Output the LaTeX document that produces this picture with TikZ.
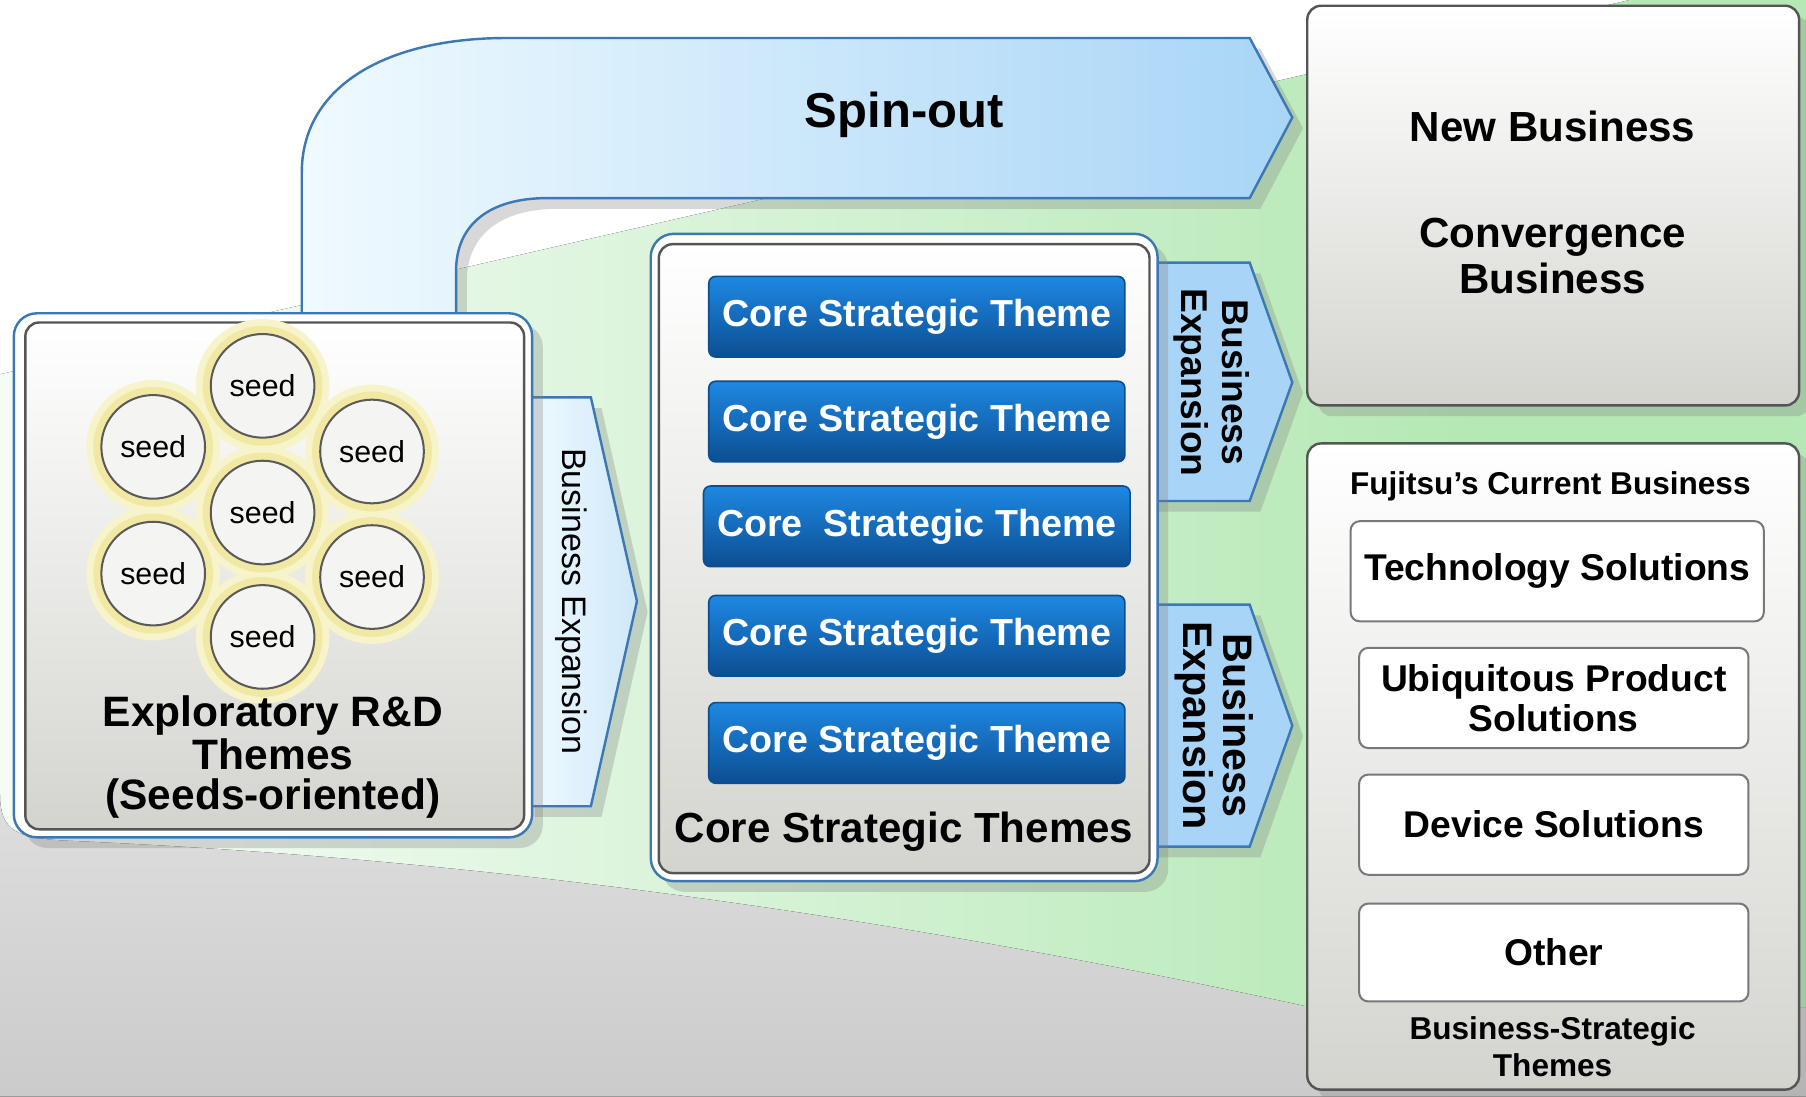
\documentclass[tikz,border=0pt]{standalone}
\usepackage{fontspec}
\setmainfont{Liberation Sans}
\usetikzlibrary{fit,shadows,positioning}

\definecolor{bggreen}{RGB}{180,232,180}
\definecolor{bgtop}{RGB}{222,222,222}
\definecolor{bgbot}{RGB}{203,203,203}
\definecolor{frameblue}{RGB}{60,120,180}
\definecolor{arrowblue}{RGB}{168,213,247}
\definecolor{spinlight}{RGB}{240,250,254}
\definecolor{boxgray}{RGB}{212,212,207}
\definecolor{boxedge}{RGB}{85,85,85}
\definecolor{seedfill}{RGB}{244,244,242}
\definecolor{seededge}{RGB}{90,90,90}
\definecolor{glowyellow}{RGB}{238,228,140}
\definecolor{themetop}{RGB}{30,136,226}
\definecolor{themebot}{RGB}{12,78,146}
\definecolor{unitedge}{RGB}{120,120,120}
\pgfdeclarehorizontalshading{greenfade}{100bp}{color(0bp)=(white); color(30bp)=(bggreen!18!white); color(66bp)=(bggreen); color(100bp)=(bggreen)}

\begin{document}
\begin{tikzpicture}[x=0.1mm, y=-0.1mm,
  graybox/.style={draw=boxedge, line width=0.6pt, rounded corners=1.2mm, top color=white, bottom color=boxgray, inner sep=0pt},
  frame/.style={draw=frameblue, line width=0.6pt, rounded corners=2mm, fill=white, inner sep=0pt, drop shadow={opacity=0.3}},
  blockarrow/.style={draw=frameblue, line width=0.6pt, fill=arrowblue, drop shadow={opacity=0.3}},
  seed/.style={circle, draw=seededge, line width=0.5pt, fill=seedfill, minimum size=9mm, inner sep=0pt, font=\fontsize{7.5}{9}\selectfont},
  theme/.style={draw=themebot, rounded corners=0.6mm, top color=themetop, bottom color=themebot, minimum width=35.3mm, minimum height=7mm, text=white, font=\bfseries\fontsize{9.3}{11}\selectfont},
  unit/.style={draw=unitedge, line width=0.5pt, rounded corners=0.8mm, fill=white, minimum width=33.8mm, minimum height=8.7mm, align=center, font=\bfseries\fontsize{9.2}{10}\selectfont},
  bigtxt/.style={align=center, font=\bfseries\fontsize{10.4}{11.4}\selectfont}
]
  \useasboundingbox (0,0) rectangle (1568,952);
  \fill[white] (0,0) rectangle (1568,952);
  \fill[shading=greenfade] (0,325) -- (1415,0) -- (1568,0) -- (1568,952) -- (0,952) -- cycle;
  \fill[top color=bgtop, bottom color=bgbot] (0,690) .. controls (0,722) and (15,728) .. (60,730)
    .. controls (400,745) and (750,790) .. (1140,875) -- (1568,875) -- (1568,952) -- (0,952) -- cycle;

  % spin-out
  \draw[blockarrow, left color=spinlight, right color=arrowblue] (262,272) -- (262,150)
    .. controls (262,75) and (335,33) .. (440,33) -- (1085,33) -- (1122,102) -- (1085,172)
    -- (475,172) .. controls (425,172) and (396,195) .. (396,235) -- (396,272);
  \node[font=\bfseries\fontsize{12.1}{14}\selectfont] (spin) at (785,100) {Spin-out};

  % exploratory themes
  \draw[blockarrow, left color=spinlight, right color=arrowblue!55] (455,345) -- (513,345) -- (553,522) -- (513,700) -- (455,700);
  \node[frame, fit={(12,272) (462,727)}] (explorframe) {};
  \node[graybox, fit={(22,280) (455,720)}] (explor) {};
  \node[rotate=-90, font=\fontsize{8.4}{10}\selectfont] (bx1) at (496,522) {Business Expansion};

  \newcommand{\seedlist}{228/335/s1, 133/388/s2, 323/392/s3, 228/445/s4, 133/498/s5, 323/501/s6, 228/553/s7}
  \foreach \x/\y/\n in \seedlist {
      \fill[glowyellow!45] (\x,\y) circle (58);
  }
  \foreach \x/\y/\n in \seedlist {
      \fill[glowyellow!80] (\x,\y) circle (52);
  }
  \foreach \x/\y/\n in \seedlist {
      \node[seed] (\n) at (\x,\y) {seed};
  }
  \node[bigtxt, font=\bfseries\fontsize{10.5}{9.7}\selectfont] (explorlbl) at (237,657) {Exploratory R\&D\\Themes\\(Seeds-oriented)};

  % core strategic themes
  \draw[blockarrow] (995,228) -- (1085,228) -- (1122,332) -- (1085,435) -- (995,435);
  \draw[blockarrow] (995,525) -- (1085,525) -- (1122,630) -- (1085,735) -- (995,735);
  \node[frame, fit={(565,203) (1005,765)}] (coreframe) {};
  \node[graybox, fit={(572,212) (998,758)}] (core) {};
  \foreach \y/\t [count=\i] in {275/Core Strategic Theme, 366/Core Strategic Theme, 457/Core~ Strategic Theme, 552/Core Strategic Theme, 645/Core Strategic Theme} {
      \node[theme] (t\i) at (796,\y) {\t};
  }
  \node[bigtxt] (corelbl) at (785,722) {Core Strategic Themes};
  \node[rotate=-90, align=center, font=\bfseries\fontsize{9.2}{10}\selectfont] (bx2) at (1052,332) {Business\\Expansion};
  \node[rotate=-90, align=center, font=\bfseries\fontsize{10.2}{10}\selectfont] (bx3) at (1054,630) {Business\\Expansion};

  % business boxes
  \node[graybox, drop shadow={opacity=0.3}, fit={(1135,5) (1562,352)}] (newbiz) {};
  \node[bigtxt] (newlbl) at (1348,110) {New Business};
  \node[bigtxt] (convlbl) at (1348,222) {Convergence\\Business};

  \node[graybox, drop shadow={opacity=0.3}, fit={(1135,385) (1562,946)}] (current) {};
  \node[font=\bfseries\fontsize{7.8}{9}\selectfont] (curlbl) at (1346,422) {Fujitsu’s Current Business};
  \node[unit, minimum width=34.5mm] (tech) at (1352,496) {Technology Solutions};
  \node[unit] (ubiq) at (1349,606) {Ubiquitous Product\\Solutions};
  \node[unit] (device) at (1349,716) {Device Solutions};
  \node[unit, minimum height=8.5mm] (other) at (1349,827) {Other};
  \node[align=center, font=\bfseries\fontsize{7.8}{9.1}\selectfont] (bstlbl) at (1348,909) {Business-Strategic\\Themes};
\end{tikzpicture}
\end{document}
